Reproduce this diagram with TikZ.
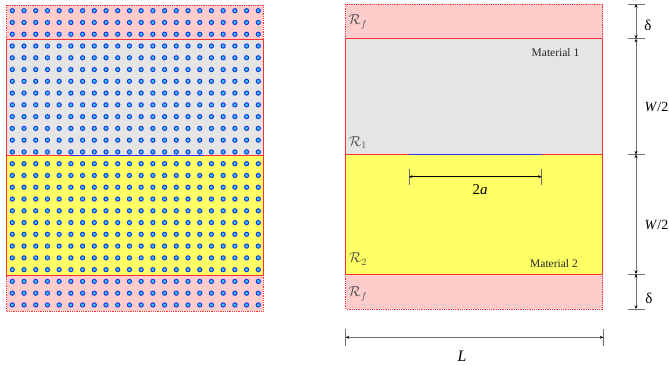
\documentclass[tikz,border=0pt]{standalone}
\usepackage{fontspec}
\setmainfont{Liberation Serif}
\usepackage{xcolor}
\definecolor{bandpink}{HTML}{FFCCCC}
\definecolor{matgray}{HTML}{E5E5E5}
\definecolor{matyellow}{HTML}{FFFF66}
\definecolor{edgered}{HTML}{FF3333}
\definecolor{crackblue}{HTML}{3333FF}
\definecolor{dotring}{HTML}{1A33E6}
\definecolor{dotfill}{HTML}{33CCFF}
\definecolor{dimgray}{HTML}{707070}
\definecolor{labelgray}{HTML}{4D4D4D}
\usepackage{tikz}
\usetikzlibrary{arrows.meta}
\tikzset{
  >={Stealth[length=3.5pt, width=3pt, color=black]},
  band/.style={fill=bandpink, draw=edgered, densely dotted, line width=0.8pt},
  layergray/.style={fill=matgray, draw=edgered, line width=1pt},
  layeryellow/.style={fill=matyellow, draw=edgered, line width=1pt},
  crack/.style={draw=crackblue, line width=1.5pt},
  particle/.style={draw=dotring, fill=dotfill, line width=1pt},
  dimline/.style={<->, dimgray, line width=0.8pt},
  tickline/.style={dimgray, line width=0.8pt},
  matlabel/.style={font=\fontsize{11.5}{13}\selectfont, text=black!85},
  regionlabel/.style={font=\fontsize{14}{16}\selectfont, text=labelgray, inner sep=0pt},
  dimlabel/.style={font=\fontsize{15}{17}\selectfont, inner sep=0pt}
}
\newcommand{\regionR}[1]{$\mathcal{R}_{#1}$}

\begin{document}
\begin{tikzpicture}[x=1pt, y=-1pt]
\useasboundingbox (0,0) rectangle (669,366);

% particle model
\draw[band] (6.7,5) rectangle (263.3,39.3);
\draw[band] (6.7,275.5) rectangle (263.3,311);
\draw[layergray] (6.7,39.3) rectangle (263.3,155.5);
\draw[layeryellow] (6.7,155.5) rectangle (263.3,275.5);
\coordinate (lcrackA) at (70,155.5);
\coordinate (lcrackB) at (204,155.5);
\draw[crack] (lcrackA) -- (lcrackB);
\foreach \i in {0,...,21}
  \foreach \j in {0,...,25}
    \draw[particle] (12.3+11.714*\i, 10.7+11.77*\j) circle (2.1);

% continuum model
\draw[band] (345.7,4) rectangle (602.7,38.7);
\draw[band] (345.7,274) rectangle (602.7,309);
\draw[layergray] (345.7,38.7) rectangle (602.7,154.5);
\draw[layeryellow] (345.7,154.5) rectangle (602.7,274);
\coordinate (rcrackA) at (408.5,154.5);
\coordinate (rcrackB) at (541.7,154.5);
\draw[crack] (rcrackA) -- (rcrackB);

\node[regionlabel] (rfTop) at (358,22) {\regionR{f}};
\node[regionlabel] (rOne) at (358,143) {\regionR{1}};
\node[regionlabel] (rTwo) at (358,259) {\regionR{2}};
\node[regionlabel] (rfBot) at (358,294) {\regionR{f}};
\node[matlabel] (mat1) at (555.5,53) {Material 1};
\node[matlabel] (mat2) at (554,263.5) {Material 2};

% crack length
\coordinate (aL) at (409,176.7);
\coordinate (aR) at (541.7,176.7);
\draw[tickline] ([yshift=-8]aL) -- ([yshift=8]aL);
\draw[tickline] ([yshift=-8]aR) -- ([yshift=8]aR);
\draw[<->, black, line width=0.8pt] (aL) -- (aR);
\node[dimlabel] (lenA) at (480,189.5) {2\textit{a}};

% widths
\foreach \name/\y in {wA/4, wB/38.7, wC/154.5, wD/274, wE/309} {
  \coordinate (\name) at (636,\y);
  \draw[tickline] ([xshift=-8.5]\name) -- ([xshift=8.5]\name);
}
\draw[dimline] (wA) -- (wB);
\draw[dimline] (wB) -- (wC);
\draw[dimline] (wC) -- (wD);
\draw[dimline] (wD) -- (wE);
\node[dimlabel] (deltaTop) at (648,25) {δ};
\node[dimlabel, font=\fontsize{14}{16}\selectfont] (halfTop) at (656.5,107) {\textit{W}/2};
\node[dimlabel, font=\fontsize{14}{16}\selectfont] (halfBot) at (656.5,225) {\textit{W}/2};
\node[dimlabel] (deltaBot) at (649,298) {δ};

% length
\coordinate (lenL) at (345.7,337.3);
\coordinate (lenR) at (603.3,337.3);
\draw[tickline] ([yshift=-9]lenL) -- ([yshift=8]lenL);
\draw[tickline] ([yshift=-9]lenR) -- ([yshift=8]lenR);
\draw[dimline] (lenL) -- (lenR);
\node[dimlabel, font=\fontsize{16}{18}\selectfont] (lenLabel) at (462,356) {\textit{L}};
\end{tikzpicture}
\end{document}
